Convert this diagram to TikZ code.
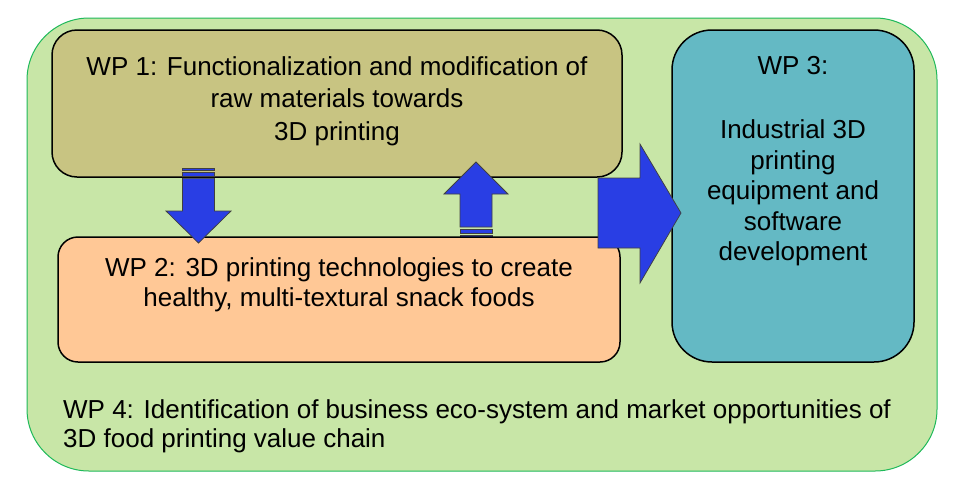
\documentclass[tikz,border=0pt]{standalone}
\usepackage{fontspec}
\setmainfont{Liberation Sans}
\usetikzlibrary{positioning}
\definecolor{wpfourfill}{RGB}{200,230,167}
\definecolor{wpfourdraw}{RGB}{30,185,90}
\definecolor{wponefill}{RGB}{200,196,130}
\definecolor{wptwofill}{RGB}{255,200,150}
\definecolor{wpthreefill}{RGB}{100,185,196}
\definecolor{arrowblue}{RGB}{41,62,228}
\tikzset{
	wpbox/.style={draw, line width=1.5pt, inner sep=0pt},
	wptext/.style={inner sep=0pt, align=center, font=\fontsize{26}{32.5}\selectfont},
	blockarrow/.style={draw=black!75, line width=0.75pt, fill=arrowblue},
}

\begin{document}
\begin{tikzpicture}[x=1pt,y=-1pt]
		\useasboundingbox (0,0) rectangle (957,485);
		\node (wpfour)[draw=wpfourdraw, fill=wpfourfill, line width=1pt, rounded corners=62pt, minimum width=910pt, minimum height=453pt] at (482,244.5) {};
		\node (wpfourtext)[wptext, align=left, font=\fontsize{26}{29}\selectfont, anchor=north west] at (63,399) {WP 4: Identification of business eco-system and market opportunities of\\3D food printing value chain};
		%
		\node (wpone)[wpbox, fill=wponefill, rounded corners=25pt, minimum width=570pt, minimum height=147pt] at (337,103.5) {};
		\node (wpthree)[wpbox, fill=wpthreefill, rounded corners=40pt, minimum width=242pt, minimum height=332pt] at (793,196) {};
		%
		\draw [blockarrow] (460,229) rectangle (492,233);
		\draw [blockarrow] (460,235) rectangle (492,238);
		\node (wptwo)[wpbox, fill=wptwofill, rounded corners=20pt, minimum width=562pt, minimum height=125pt] at (339,299.5) {};
		%
		\node (wponetext)[wptext, below=27pt of wpone.north] {WP 1: Functionalization and modification of\\raw materials towards\\3D printing};
		\node (wptwotext)[wptext, font=\fontsize{26}{30.5}\selectfont, below=21pt of wptwo.north] {WP 2: 3D printing technologies to create\\healthy, multi-textural snack foods};
		\node (wpthreetext)[wptext, font=\fontsize{26}{30.5}\selectfont, below=27pt of wpthree.north] {WP 3:\\[33.5pt]Industrial 3D\\printing\\equipment and\\software\\development};
		%
		% WP 1 -> WP 2
		\draw [blockarrow] (182.5,168.5) rectangle (214.5,170.7);
		\draw [blockarrow] (182.5,172.3) rectangle (214.5,176);
		\draw [blockarrow] (182.5,178.3)--(214.5,178.3)--(214.5,211)--(231,211)--(198.5,243)--(166,211)--(182.5,211)--cycle;
		% WP 2 -> WP 1
		\draw [blockarrow] (460,227)--(460,194)--(444,194)--(476,162)--(508,194)--(492,194)--(492,227)--cycle;
		% WP 1, WP 2 -> WP 3
		\draw [blockarrow] (598,178)--(640,178)--(640,144)--(681,213)--(640,283)--(640,248)--(598,248)--cycle;
	\end{tikzpicture}
\end{document}
